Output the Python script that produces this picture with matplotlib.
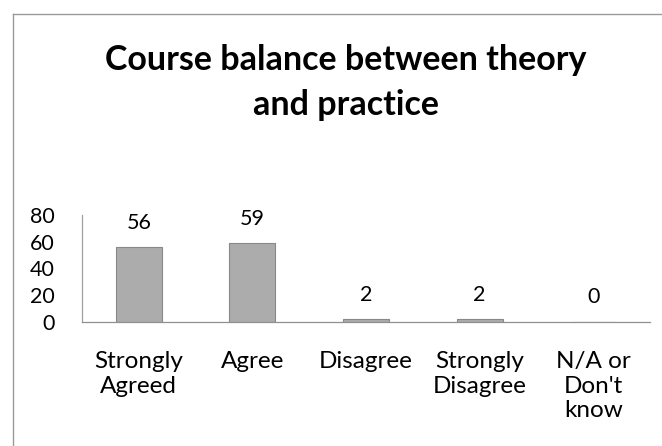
import matplotlib
matplotlib.use("Agg")
import matplotlib.pyplot as plt
from matplotlib.lines import Line2D

categories = ["Strongly\nAgreed", "Agree", "Disagree", "Strongly\nDisagree", "N/A or\nDon't\nknow"]
values = [56, 59, 2, 2, 0]
yticks = [0, 20, 40, 60, 80]
title_lines = ["Course balance between theory", "and practice"]

plt.rcParams['font.family'] = ['Lato', 'DejaVu Sans']

W, H = 662, 446
fig = plt.figure(figsize=(W / 100, H / 100), dpi=100)
fig.patch.set_facecolor('white')

# chart frame (left and top edges visible)
fig.add_artist(Line2D([13 / W, 13 / W], [0, 1 - 14 / H], transform=fig.transFigure,
                      color='#9a9a9a', lw=1.0))
fig.add_artist(Line2D([13 / W, 1], [1 - 14 / H, 1 - 14 / H], transform=fig.transFigure,
                      color='#9a9a9a', lw=1.0))

left, right = 82 / W, 650 / W
bottom, top = 1 - 322 / H, 1 - 215 / H
ax = fig.add_axes([left, bottom, right - left, top - bottom])

x = list(range(len(categories)))
bars = ax.bar(x, values, width=0.405, color='#acacac', edgecolor='#888888', linewidth=0.8)
ax.set_xlim(-0.5, len(categories) - 0.5)
ax.set_ylim(0, 80)
ax.set_yticks(yticks)
ax.set_yticklabels([str(t) for t in yticks], fontsize=15.5)
ax.set_xticks(x)
ax.set_xticklabels(categories, fontsize=17.5, linespacing=1.2)
ax.tick_params(axis='y', length=0, pad=19.5)
ax.tick_params(axis='x', length=0, pad=21)

for s in ['top', 'right']:
    ax.spines[s].set_visible(False)
ax.spines['left'].set_color('#a0a0a0')
ax.spines['left'].set_linewidth(0.9)
ax.spines['bottom'].set_color('#909090')
ax.spines['bottom'].set_linewidth(0.9)

for xi, v in zip(x, values):
    ax.annotate(str(v), (xi, v), xytext=(0, 10.5), textcoords='offset points',
                ha='center', va='bottom', fontsize=15.5, annotation_clip=False)

for line, yb in zip(title_lines, [70, 115]):
    fig.text(346 / W, 1 - yb / H, line, ha='center', va='baseline', fontsize=24.5,
             fontweight='bold')

fig.savefig("out.png", dpi=100)
